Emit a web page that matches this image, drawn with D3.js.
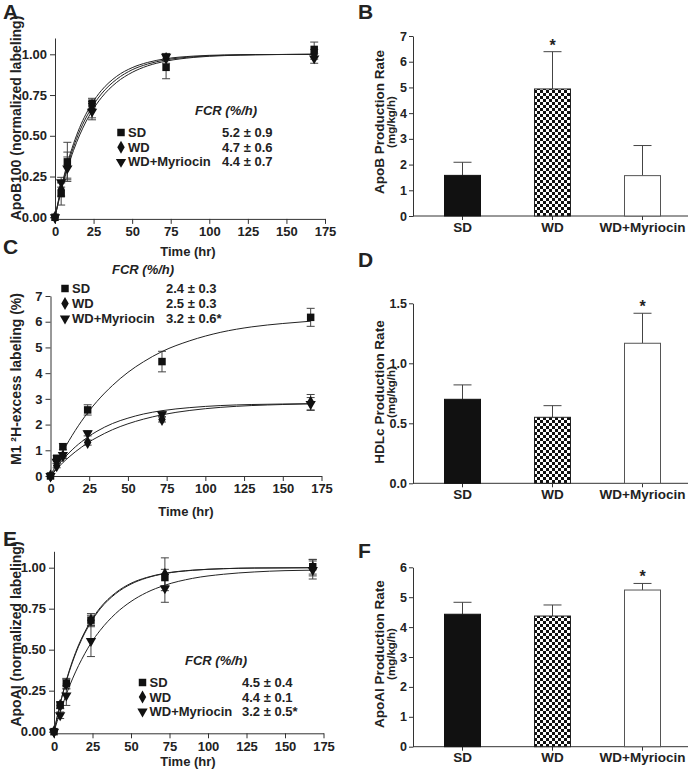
<!DOCTYPE html>
<html><head><meta charset="utf-8">
<script src="https://cdn.jsdelivr.net/npm/d3@7"></script>
<style>
body{margin:0;background:#fff}
text{font-family:Arial,"Liberation Sans",Helvetica,sans-serif;font-weight:bold;fill:#222}
</style>
</head><body>
<svg id="c" width="689" height="775"></svg>
<script>
// ---------- data ----------
const seriesNames = ["SD", "WD", "WD+Myriocin"];
const timeHr = [0, 4, 8, 24, 72, 168];
const fitHr = [0, 4, 8, 12, 16, 20, 24, 30, 40, 50, 60, 72, 90, 110, 130, 150, 168];
const timeTicks = [0, 25, 50, 75, 100, 125, 150, 175];

// Panel A: ApoB100 normalized labeling
const apoB_SD = [0, 0.145, 0.34, 0.70, 0.92, 1.03];
const apoB_SD_err = [0, 0.07, 0.12, 0.03, 0.07, 0.045];
const apoB_WD = [0, 0.17, 0.32, 0.66, 0.975, 1.0];
const apoB_WD_err = [0, 0.04, 0.08, 0.05, 0.03, 0.03];
const apoB_MYR = [0, 0.215, 0.30, 0.648, 0.985, 0.975];
const apoB_MYR_err = [0, 0.03, 0.07, 0.05, 0.02, 0.03];
const apoB_fit_SD = [0, 0.181, 0.330, 0.451, 0.551, 0.632, 0.699, 0.777, 0.865, 0.918, 0.950, 0.973, 0.989, 0.996, 0.998, 0.999, 1.0];
const apoB_fit_WD = [0, 0.171, 0.313, 0.431, 0.529, 0.609, 0.676, 0.756, 0.847, 0.905, 0.940, 0.966, 0.985, 0.994, 0.998, 0.999, 1.0];
const apoB_fit_MYR = [0, 0.161, 0.297, 0.410, 0.505, 0.585, 0.652, 0.733, 0.828, 0.889, 0.929, 0.958, 0.981, 0.992, 0.997, 0.999, 1.0];
const fcrA = ["5.2 ± 0.9", "4.7 ± 0.6", "4.4 ± 0.7"];
const ticksA = [0, 0.25, 0.5, 0.75, 1.0];

// Panel C: M1 2H-excess labeling (%)
const hdl_SD = [0, 0.69, 1.14, 2.57, 4.45, 6.17];
const hdl_SD_err = [0, 0.1, 0.12, 0.2, 0.4, 0.35];
const hdl_WD = [0, 0.40, 0.78, 1.30, 2.20, 2.87];
const hdl_WD_err = [0, 0.08, 0.1, 0.1, 0.1, 0.3];
const hdl_MYR = [0, 0.56, 0.82, 1.66, 2.40, 2.80];
const hdl_MYR_err = [0, 0.06, 0.08, 0.1, 0.1, 0.25];
const hdl_fit_SD = [0, 0.50, 0.96, 1.38, 1.77, 2.13, 2.46, 2.90, 3.52, 4.03, 4.44, 4.84, 5.26, 5.59, 5.80, 5.93, 6.02];
const hdl_fit_WD = [0, 0.27, 0.52, 0.74, 0.94, 1.12, 1.29, 1.50, 1.80, 2.03, 2.21, 2.38, 2.55, 2.67, 2.74, 2.78, 2.81];
const hdl_fit_MYR = [0, 0.34, 0.64, 0.90, 1.13, 1.33, 1.51, 1.74, 2.04, 2.25, 2.41, 2.54, 2.66, 2.74, 2.78, 2.80, 2.81];
const fcrC = ["2.4 ± 0.3", "2.5 ± 0.3", "3.2 ± 0.6*"];
const ticksC = [0, 1, 2, 3, 4, 5, 6, 7];

// Panel E: ApoAI normalized labeling
const apoA_SD = [0, 0.163, 0.295, 0.68, 0.94, 1.006];
const apoA_SD_err = [0, 0.02, 0.03, 0.04, 0.05, 0.045];
const apoA_WD = [0, 0.16, 0.29, 0.68, 0.96, 1.0];
const apoA_WD_err = [0, 0.02, 0.03, 0.03, 0.10, 0.05];
const apoA_MYR = [0, 0.10, 0.22, 0.553, 0.874, 0.986];
const apoA_MYR_err = [0, 0.02, 0.06, 0.095, 0.085, 0.055];
const apoA_fit_SD = [0, 0.171, 0.313, 0.431, 0.529, 0.609, 0.676, 0.756, 0.847, 0.905, 0.940, 0.966, 0.985, 0.994, 0.998, 0.999, 1.0];
const apoA_fit_WD = [0, 0.168, 0.308, 0.424, 0.521, 0.601, 0.668, 0.749, 0.841, 0.900, 0.937, 0.964, 0.984, 0.994, 0.998, 0.999, 1.0];
const apoA_fit_MYR = [0, 0.120, 0.228, 0.322, 0.404, 0.476, 0.540, 0.618, 0.720, 0.794, 0.848, 0.893, 0.935, 0.960, 0.974, 0.982, 0.985];
const fcrE = ["4.5 ± 0.4", "4.4 ± 0.1", "3.2 ± 0.5*"];

// Bar panels
const apoBRate = [1.58, 4.94, 1.57];
const apoBRate_err = [0.51, 1.45, 1.17];
const apoBRate_sig = [false, true, false];
const ticksB = [0, 1, 2, 3, 4, 5, 6, 7];

const hdlRate = [0.70, 0.55, 1.167];
const hdlRate_err = [0.12, 0.097, 0.25];
const hdlRate_sig = [false, false, true];
const ticksD = [0, 0.5, 1.0, 1.5];

const apoAIRate = [4.43, 4.37, 5.24];
const apoAIRate_err = [0.40, 0.37, 0.22];
const apoAIRate_sig = [false, false, true];
const ticksF = [0, 1, 2, 3, 4, 5, 6];

// ---------- drawing ----------
const FONT = 'Arial,"Liberation Sans",Helvetica,sans-serif';
const svg = d3.select("#c");
const defs = svg.append("defs");
const pat = defs.append("pattern").attr("id", "checker").attr("patternUnits", "userSpaceOnUse")
  .attr("width", 6).attr("height", 6);
pat.append("rect").attr("width", 6).attr("height", 6).attr("fill", "#fff");
pat.append("rect").attr("width", 3).attr("height", 3).attr("fill", "#111");
pat.append("rect").attr("x", 3).attr("y", 3).attr("width", 3).attr("height", 3).attr("fill", "#111");

const AX = "#333";
function styleAxis(g, fs) {
  g.attr("font-family", FONT);
  g.selectAll("path.domain").attr("stroke", AX);
  g.selectAll(".tick line").attr("stroke", AX);
  g.selectAll(".tick text").attr("font-size", fs).attr("fill", "#222").attr("font-weight", "bold");
}

const shapes = [
  {type: d3.symbolSquare, size: 56, rot: 0},
  {type: d3.symbolDiamond, size: 48, rot: 0},
  {type: d3.symbolTriangle, size: 46, rot: 180}
];
function marker(g, i, x, y) {
  const s = shapes[i];
  g.append("path").attr("d", d3.symbol().type(s.type).size(s.size)())
    .attr("transform", `translate(${x},${y}) rotate(${s.rot})`)
    .attr("fill", "#111");
}

function panelLabel(t, x, y) {
  svg.append("text").attr("x", x).attr("y", y).attr("font-size", 21).text(t);
}

function linePanel(cfg) {
  const g = svg.append("g");
  const x = d3.scaleLinear().domain([0, 175]).range(cfg.xRange);
  const y = d3.scaleLinear().domain(cfg.yDomain).range(cfg.yRange);
  const yAx = g.append("g").attr("transform", `translate(${cfg.xRange[0]},0)`)
    .call(d3.axisLeft(y).tickValues(cfg.yTicks).tickFormat(cfg.yFmt).tickSize(5).tickSizeOuter(0));
  styleAxis(yAx, 13);
  const xAx = g.append("g").attr("transform", `translate(0,${cfg.yRange[0]})`)
    .call(d3.axisBottom(x).tickValues(timeTicks).tickSize(5).tickSizeOuter(0));
  styleAxis(xAx, 13);
  g.append("text").attr("x", cfg.xTitleX).attr("y", cfg.xTitleY).attr("text-anchor", "middle")
    .attr("font-size", 13).text("Time (hr)");
  g.append("text").attr("transform", `translate(${cfg.yTitleX},${cfg.yTitleY}) rotate(-90)`)
    .attr("text-anchor", "middle").attr("font-size", 14).text(cfg.yTitle);

  const line = d3.line().x((d, i) => x(fitHr[i])).y(d => y(d)).curve(d3.curveMonotoneX);
  cfg.series.forEach((s, si) => {
    s.vals.forEach((v, i) => {
      const e = s.err[i];
      if (!e) return;
      const cx = x(timeHr[i]);
      g.append("line").attr("x1", cx).attr("x2", cx).attr("y1", y(v - e)).attr("y2", y(v + e))
        .attr("stroke", "#444").attr("stroke-width", 1);
      [v - e, v + e].forEach(b => g.append("line").attr("x1", cx - 4).attr("x2", cx + 4)
        .attr("y1", y(b)).attr("y2", y(b)).attr("stroke", "#444").attr("stroke-width", 1));
    });
  });
  cfg.series.forEach(s => {
    g.append("path").datum(s.fit).attr("d", line).attr("fill", "none")
      .attr("stroke", "#222").attr("stroke-width", 1);
  });
  [2, 1, 0].forEach(si => {
    const s = cfg.series[si];
    s.vals.forEach((v, i) => marker(g, si, x(timeHr[i]), y(v)));
  });
  const L = cfg.legend;
  g.append("text").attr("x", L.fcrX).attr("y", L.fcrY).attr("font-size", 13)
    .attr("font-style", "italic").text("FCR (%/h)");
  seriesNames.forEach((n, i) => {
    const yy = L.rowY + i * L.dy;
    marker(g, i, L.mx, yy - 4.5);
    g.append("text").attr("x", L.mx + 7).attr("y", yy).attr("font-size", 13).text(n);
    g.append("text").attr("x", L.vx).attr("y", yy).attr("font-size", 13).text(L.vals[i]);
  });
}

function barPanel(cfg) {
  const g = svg.append("g");
  const x = d3.scaleBand().domain(seriesNames).range([417.5, 687.5]).paddingInner(0.6).paddingOuter(0.3);
  const y = d3.scaleLinear().domain(cfg.yDomain).range(cfg.yRange);
  const yAx = g.append("g").attr("transform", `translate(413,0)`)
    .call(d3.axisLeft(y).tickValues(cfg.yTicks).tickFormat(cfg.yFmt).tickSize(4).tickPadding(2).tickSizeOuter(0));
  styleAxis(yAx, 12.5);
  const xAx = g.append("g").attr("transform", `translate(0,${cfg.yRange[0]})`)
    .call(d3.axisBottom(x).tickSize(4).tickPadding(2).tickSizeOuter(0));
  xAx.select("path.domain").remove();
  styleAxis(xAx, 13.5);
  g.append("line").attr("x1", 413).attr("x2", 688).attr("y1", cfg.yRange[0]).attr("y2", cfg.yRange[0])
    .attr("stroke", AX);
  const fills = ["#111", "url(#checker)", "#fff"];
  const strokes = ["#111", "#222", "#555"];
  seriesNames.forEach((n, i) => {
    const v = cfg.vals[i], e = cfg.err[i];
    const cx = x(n) + x.bandwidth() / 2;
    g.append("line").attr("x1", cx).attr("x2", cx).attr("y1", y(v)).attr("y2", y(v + e))
      .attr("stroke", "#444");
    g.append("line").attr("x1", cx - 9).attr("x2", cx + 9).attr("y1", y(v + e)).attr("y2", y(v + e))
      .attr("stroke", "#444");
    g.append("rect").attr("x", x(n)).attr("width", x.bandwidth())
      .attr("y", y(v)).attr("height", y(0) - y(v))
      .attr("fill", fills[i]).attr("stroke", strokes[i]).attr("stroke-width", 1);
    if (cfg.sig[i]) g.append("text").attr("x", cx).attr("y", y(v + e) - 1).attr("text-anchor", "middle")
      .attr("font-size", 16).text("*");
  });
  g.append("text").attr("transform", `translate(384,${cfg.yTitleY}) rotate(-90)`)
    .attr("text-anchor", "middle").attr("font-size", 13.5).text(cfg.yTitle);
  g.append("text").attr("transform", `translate(395,${cfg.yTitleY}) rotate(-90)`)
    .attr("text-anchor", "middle").attr("font-size", 11.5).text("(mg/kg/h)");
}

const f2 = d3.format(".2f"), f1 = d3.format(".1f"), f0 = d3.format("d");

linePanel({
  xRange: [55, 325], yDomain: [-0.01, 1.1], yRange: [218.9, 38], yTicks: ticksA, yFmt: f2,
  xTitleX: 188, xTitleY: 256, yTitleX: 21, yTitleY: 118, yTitle: "ApoB100 (normalized labeling)",
  series: [
    {vals: apoB_SD, err: apoB_SD_err, fit: apoB_fit_SD},
    {vals: apoB_WD, err: apoB_WD_err, fit: apoB_fit_WD},
    {vals: apoB_MYR, err: apoB_MYR_err, fit: apoB_fit_MYR}],
  legend: {fcrX: 195, fcrY: 115, mx: 121, rowY: 137, dy: 14.7, vx: 222, vals: fcrA}
});
linePanel({
  xRange: [50.5, 321.5], yDomain: [0, 7], yRange: [476, 296], yTicks: ticksC, yFmt: f0,
  xTitleX: 186, xTitleY: 516, yTitleX: 21, yTitleY: 379, yTitle: "M1 ²H-excess labeling (%)",
  series: [
    {vals: hdl_SD, err: hdl_SD_err, fit: hdl_fit_SD},
    {vals: hdl_WD, err: hdl_WD_err, fit: hdl_fit_WD},
    {vals: hdl_MYR, err: hdl_MYR_err, fit: hdl_fit_MYR}],
  legend: {fcrX: 112, fcrY: 274, mx: 65, rowY: 293, dy: 15, vx: 166, vals: fcrC}
});
linePanel({
  xRange: [54, 323.5], yDomain: [-0.01, 1.1], yRange: [733.3, 551.3], yTicks: ticksA, yFmt: f2,
  xTitleX: 188, xTitleY: 766, yTitleX: 21, yTitleY: 634, yTitle: "ApoAI (normalized labeling)",
  series: [
    {vals: apoA_SD, err: apoA_SD_err, fit: apoA_fit_SD},
    {vals: apoA_WD, err: apoA_WD_err, fit: apoA_fit_WD},
    {vals: apoA_MYR, err: apoA_MYR_err, fit: apoA_fit_MYR}],
  legend: {fcrX: 185, fcrY: 665, mx: 142.5, rowY: 687, dy: 14.5, vx: 242, vals: fcrE}
});

barPanel({yDomain: [0, 7], yRange: [216, 36], yTicks: ticksB, yFmt: f0,
  vals: apoBRate, err: apoBRate_err, sig: apoBRate_sig, yTitle: "ApoB Production Rate", yTitleY: 122});
barPanel({yDomain: [0, 1.5], yRange: [483.3, 303.3], yTicks: ticksD, yFmt: f1,
  vals: hdlRate, err: hdlRate_err, sig: hdlRate_sig, yTitle: "HDLc Production Rate", yTitleY: 392});
barPanel({yDomain: [0, 6], yRange: [746.7, 567.3], yTicks: ticksF, yFmt: f0,
  vals: apoAIRate, err: apoAIRate_err, sig: apoAIRate_sig, yTitle: "ApoAI Production Rate", yTitleY: 654});

panelLabel("A", 3, 19);
panelLabel("B", 358, 19);
panelLabel("C", 3, 254);
panelLabel("D", 358, 267);
panelLabel("E", 3, 546);
panelLabel("F", 358, 558);
</script>
</body></html>
